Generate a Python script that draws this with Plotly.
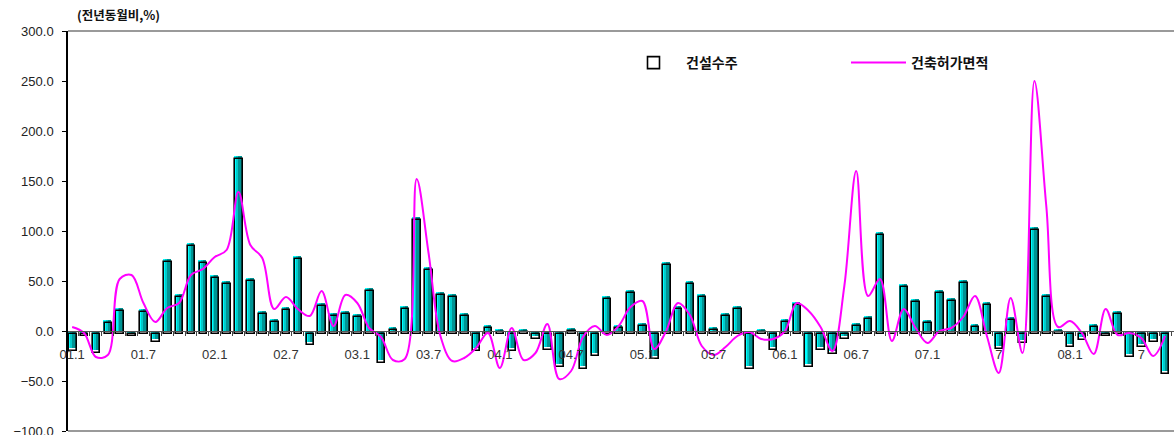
import plotly.graph_objects as go

# ---- data (monthly, 2001.1 - 2008.9, y/y %) ----
months = [f"{yy:02d}.{mm}" for yy in range(1, 9) for mm in range(1, 13)][:93]
x_pos = list(range(len(months)))

construction_orders = [
    -17, -2, -19, 11, 23, -2, 22, -8, 72, 37,
    88, 71, 56, 50, 175, 53, 20, 12, 24, 75,
    -11, 28, 18, 20, 17, 43, -29, 4, 25, 114,
    64, 39, 37, 18, -17, 6, 2, -17, 2, -5,
    -16, -33, 3, -35, -22, 35, 6, 41, 8, -25,
    69, 25, 50, 37, 4, 18, 25, -35, 2, -16,
    12, 29, -33, -16, -20, -5, 8, 15, 99, 0,
    47, 32, 11, 41, 33, 51, 7, 29, -15, 14,
    -9, 104, 37, 2, -13, -6, 7, -2, 20, -23,
    -13, -8, -40,
]

building_permits = [
    4, -2, -26, -24, 52, 56, 28, 9, 23, 28,
    56, 62, 74, 81, 139, 86, 73, 22, 34, 22,
    15, 40, 5, 36, 28, 3, -6, -29, -28, 152,
    78, -5, -30, -27, -17, -2, -37, 3, -29, -22,
    7, -48, -40, -6, 5, -4, 5, 24, 30, -18,
    0, 28, 16, -15, -24, -16, -5, -1, -8, -8,
    0, 28, 20, 4, -20, 45, 160, 35, 52, -10,
    22, 3, -12, 0, 3, 14, 35, -5, -42, 33,
    -22, 250, 125, 4, 10, -2, -23, 22, -4, -2,
    -7, -25, -5,
]

tick_positions = list(range(0, 93, 6))
tick_labels = ["01.1", "01.7", "02.1", "02.7", "03.1", "03.7", "04.1", "04.7",
               "05.1", "05.7", "06.1", "06.7", "07.1", "7", "08.1", "7"]

series_names = ["건설수주", "건축허가면적"]
y_title = "(전년동월비,%)"

KFONT = "Noto Sans CJK KR"
NFONT = "Liberation Sans"

fig = go.Figure()

# layered fills to imitate the gradient bars
layers = [
    ("#00FFFF", -0.37, 0.66),
    ("#00CCCC", -0.18, 0.47),
    ("#009494", -0.02, 0.31),
]
for col, off, wid in layers:
    fig.add_trace(go.Bar(
        x=x_pos, y=construction_orders, base=0,
        offset=off, width=wid,
        marker=dict(color=col, line=dict(width=0)),
        showlegend=False, hoverinfo="skip",
    ))

# offset black outline box
fig.add_trace(go.Bar(
    x=x_pos, y=construction_orders, base=-2.5,
    offset=-0.27, width=0.64,
    marker=dict(color="rgba(0,0,0,0)", line=dict(color="black", width=1.6)),
    name=series_names[0], customdata=months,
    hovertemplate="%{customdata}: %{y}<extra></extra>",
))

fig.add_trace(go.Scatter(
    x=x_pos, y=building_permits, mode="lines",
    line=dict(color="#FF00FF", width=2, shape="spline", smoothing=1),
    name=series_names[1], customdata=months,
    hovertemplate="%{customdata}: %{y}<extra></extra>",
))

fig.update_layout(
    width=1174, height=435,
    margin=dict(l=68, r=0, t=31, b=4, autoexpand=False),
    paper_bgcolor="white", plot_bgcolor="white",
    barmode="overlay", bargap=0,
    showlegend=True,
    legend=dict(
        orientation="h", x=0.5, y=0.92, xanchor="left", yanchor="middle",
        entrywidth=155, entrywidthmode="pixels", itemwidth=55,
        font=dict(family=KFONT, size=14, color="#111", weight="bold"),
        bgcolor="rgba(0,0,0,0)",
    ),
    xaxis=dict(
        range=[-0.35, 92.75], automargin=False,
        anchor="free", position=0.25,
        showline=True, linecolor="#555", linewidth=1,
        showgrid=False, zeroline=False,
        tickmode="array", tickvals=tick_positions, ticktext=tick_labels,
        ticks="outside", ticklen=11, tickcolor="rgba(0,0,0,0)",
        tickfont=dict(family=NFONT, size=13, color="#333"),
        minor=dict(ticks="outside", tick0=0.5, dtick=1, ticklen=4,
                   tickcolor="#444", tickwidth=1, showgrid=False),
    ),
    yaxis=dict(
        range=[-100, 300], dtick=50, tickformat=".1f", automargin=False,
        showline=True, linecolor="black", linewidth=1.5,
        ticks="outside", ticklen=4, tickcolor="black",
        showgrid=False, zeroline=False,
        tickfont=dict(family=NFONT, size=13, color="#222"),
        ticklabelstandoff=6, ticklabeloverflow="allow",
    ),
    shapes=[
        dict(type="line", xref="paper", yref="paper", x0=0, x1=1, y0=1, y1=1,
             line=dict(color="#9a9a9a", width=2)),
        dict(type="line", xref="paper", yref="paper", x0=0, x1=1, y0=0, y1=0,
             line=dict(color="#9a9a9a", width=2)),
    ],
    annotations=[
        dict(text=y_title, xref="paper", yref="paper", x=0.006, y=1.0,
             xanchor="left", yanchor="bottom", yshift=5, showarrow=False,
             font=dict(family=KFONT, size=12.5, color="#111", weight="bold")),
    ],
)

fig.write_html("out.html", config={"displayModeBar": False},
               post_script="document.body.style.margin='0';")
